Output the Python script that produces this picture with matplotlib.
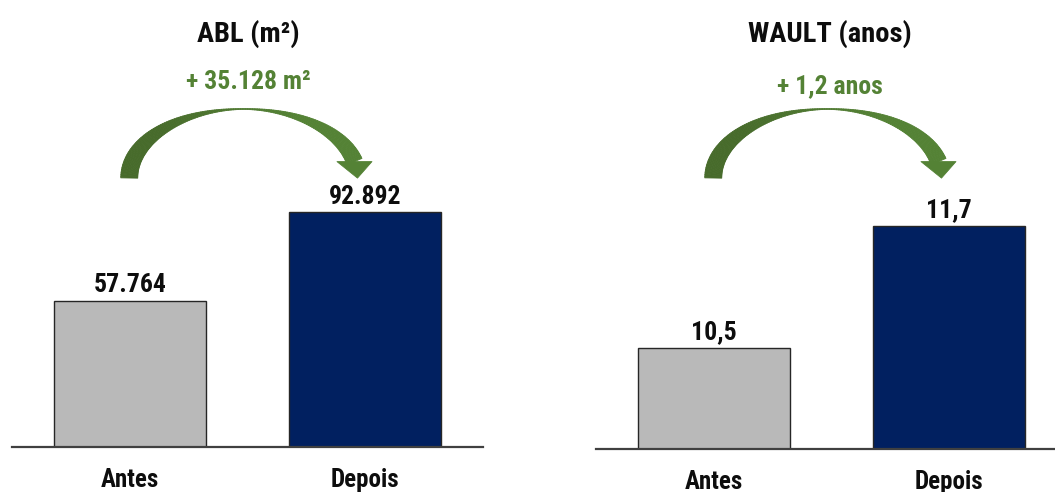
import numpy as np
import matplotlib
matplotlib.use("Agg")
import matplotlib.pyplot as plt
from matplotlib.collections import PolyCollection
from matplotlib.colors import to_rgb

plt.rcParams["font.family"] = ["Roboto Condensed", "Liberation Sans Narrow", "Roboto", "DejaVu Sans"]
plt.rcParams["font.weight"] = "bold"

# ---- data ------------------------------------------------------------------
categories = ["Antes", "Depois"]
abl_values = [57764, 92892]
abl_labels = ["57.764", "92.892"]
wault_values = [10.5, 11.7]
wault_labels = ["10,5", "11,7"]
titles = ["ABL (m²)", "WAULT (anos)"]
deltas = ["+ 35.128 m²", "+ 1,2 anos"]

BAR_COLORS = ["#b9b9b9", "#012060"]
GREEN = "#548235"
GREEN_DARK = "#476b2b"

W, H = 1055, 492
fig = plt.figure(figsize=(W / 100, H / 100), dpi=100)


def px_axes(left, bottom_px, right):
    # left/right in px from left edge, bottom_px measured from top
    return fig.add_axes([left / W, 1 - bottom_px / H, (right - left) / W, bottom_px / H])


def curved_arrow(ax, x0, x1, y_base):
    """Tapered arc from bar 0 to bar 1, drawn in pixel coords (y from top)."""
    c0 = ax.transData.transform((x0, 0))[0]
    c1 = ax.transData.transform((x1, 0))[0]
    start = c0 - 0.5
    cx = (c0 + c1) / 2 - 4
    a = cx - start
    b = 69.0
    th = np.linspace(np.pi, 0.24, 140)
    w = 0.8 + 16.2 * np.abs(np.cos(th)) ** 1.6
    xs = cx + a * np.cos(th)
    ys = y_base - b * np.sin(th)
    dx = np.gradient(xs)
    dy = np.gradient(ys)
    n = np.hypot(dx, dy)
    nx, ny = -dy / n, dx / n
    side1 = np.c_[xs + nx * w / 2, ys + ny * w / 2]
    side2 = np.c_[xs - nx * w / 2, ys - ny * w / 2]
    c_a = np.array(to_rgb(GREEN_DARK))
    c_b = np.array(to_rgb(GREEN))
    polys, cols = [], []
    for i in range(len(th) - 1):
        q = [side1[i], side1[i + 1], side2[i + 1], side2[i]]
        polys.append([(x / W, 1 - y / H) for x, y in q])
        f = min(1.0, max(0.0, (i - len(th) * 0.25) / (len(th) * 0.45)))
        cols.append(c_a * (1 - f) + c_b * f)
    # head: horizontal base, pointing down
    bx, by = xs[-1], ys[-1]
    head = [(bx - 17.5, by), (bx + 17.5, by), (bx + 3, by + 16.5)]
    polys.append([(x / W, 1 - y / H) for x, y in head])
    cols.append(c_b)
    pc = PolyCollection(polys, facecolors=cols, edgecolors=cols, linewidths=0.6,
                        transform=fig.transFigure)
    fig.add_artist(pc)


def panel(ax, values, labels, ylim, title, delta, title_x, delta_y):
    x = np.arange(len(categories))
    ax.bar(x, values, width=0.645, color=BAR_COLORS, edgecolor="#262626", linewidth=1.0)
    ax.set_xlim(-0.5, 1.5)
    ax.set_ylim(*ylim)
    for s in ["top", "right", "left"]:
        ax.spines[s].set_visible(False)
    ax.spines["bottom"].set_color("#404040")
    ax.spines["bottom"].set_linewidth(1.6)
    ax.set_yticks([])
    ax.set_xticks(x)
    ax.set_xticklabels(categories, fontsize=18, fontweight="bold", color="#0d0d0d")
    ax.tick_params(axis="x", length=0, pad=15)
    for xi, v, lab in zip(x, values, labels):
        ax.annotate(lab, (xi, v), xytext=(0, 2.5), textcoords="offset points",
                    ha="center", va="bottom", fontsize=18.5, fontweight="bold", color="#0d0d0d")
    fig.text(title_x / W, 1 - 34 / H, title, ha="center", va="center",
             fontsize=20.5, fontweight="bold", color="#0d0d0d")
    fig.text(title_x / W, 1 - delta_y / H, delta, ha="center", va="center",
             fontsize=18.5, fontweight="bold", color=GREEN)


ax1 = px_axes(12, 447, 483)
panel(ax1, abl_values, abl_labels, (0, 176700), titles[0], deltas[0], 248, 82)
ax2 = px_axes(596, 449, 1067)
panel(ax2, wault_values, wault_labels, (9.507, 13.92), titles[1], deltas[1], 830, 86)

fig.canvas.draw()
curved_arrow(ax1, 0, 1, 178)
curved_arrow(ax2, 0, 1, 178)

fig.savefig("out.png", dpi=100)
